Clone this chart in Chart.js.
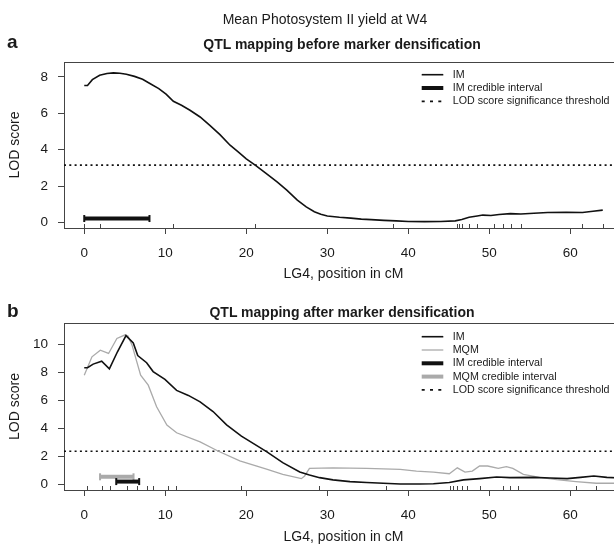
<!DOCTYPE html>
<html>
<head>
<meta charset="utf-8">
<title>Mean Photosystem II yield at W4</title>
<script src="https://cdn.jsdelivr.net/npm/chart.js@4.4.1/dist/chart.umd.min.js"></script>
<style>
  html, body { margin: 0; padding: 0; overflow: hidden; background: #fff; }
  body { width: 614px; height: 546px; position: relative; font-family: "Liberation Sans", Arial, sans-serif; color: #1a1a1a; }
  canvas { position: absolute; left: 0; }
  .txt { position: absolute; white-space: nowrap; }
  .main { left: 0; width: 650px; text-align: center; font-size: 14px; line-height: 14px; top: 12.2px; }
  .panel { left: 0; width: 684px; text-align: center; font-size: 14px; line-height: 14px; font-weight: bold; }
  .letter { left: 7px; font-size: 19px; line-height: 19px; font-weight: bold; }
</style>
</head>
<body>
<canvas id="chartA" width="640" height="286" style="top:0"></canvas>
<canvas id="chartB" width="640" height="260" style="top:286px"></canvas>

<div class="txt main">Mean Photosystem II yield at W4</div>
<div class="txt letter" style="top:32.2px">a</div>
<div class="txt panel" style="top:36.5px">QTL mapping before marker densification</div>
<div class="txt letter" style="top:300.6px">b</div>
<div class="txt panel" style="top:304.9px">QTL mapping after marker densification</div>

<script>
// tick labels
const xTickLabels = [0, 10, 20, 30, 40, 50, 60];
const yTicksA = [0, 2, 4, 6, 8];
const yTicksB = [0, 2, 4, 6, 8, 10];

// panel a : IM profile before densification (cM, LOD)
const posA = [0, 0.4, 1.0, 1.9, 2.8, 3.6, 4.4, 5.2, 6.2, 7.2, 8.1, 9.2, 10.1, 11.0, 12.0,
  13.05, 14.3, 15.5, 16.75, 18.0, 19.0, 20.0, 21.1, 22.4, 23.8, 25.0, 26.3, 27.4, 28.4, 29.2,
  30.0, 31.5, 32.9, 34.2, 35.4, 37.0, 38.5, 40.0, 42.0, 44.0, 45.8, 46.6, 47.5, 48.5, 49.2,
  50.2, 51.2, 52.6, 53.9, 55.5, 57.2, 59.5, 61.5, 62.8, 64.0];
const imA = [7.53, 7.53, 7.85, 8.09, 8.19, 8.22, 8.2, 8.15, 8.03, 7.87, 7.64, 7.36, 7.05, 6.66, 6.44,
  6.17, 5.8, 5.34, 4.83, 4.25, 3.88, 3.5, 3.15, 2.72, 2.23, 1.78, 1.23, 0.86, 0.59, 0.46,
  0.36, 0.29, 0.24, 0.19, 0.16, 0.12, 0.09, 0.06, 0.05, 0.06, 0.09, 0.17, 0.29, 0.36, 0.41,
  0.39, 0.44, 0.49, 0.47, 0.51, 0.55, 0.56, 0.55, 0.62, 0.68];
const thresholdA = 3.15;
const ciA_IM = [0, 8.05];
const ciA_IM_lod = 0.22;
const markersA = [0, 1.94, 11.0, 21.1, 38.1, 46.0, 46.3, 46.6, 47.5, 48.5, 50.6, 51.7, 52.7, 53.9, 61.5, 64.0];

// panel b : IM and MQM profiles after densification
const posB_IM = [0, 0.4, 1.1, 2.15, 3.1, 4.1, 5.15, 6.05, 6.6, 7.7, 8.5, 9.96, 11.4, 12.85, 14.3,
  15.9, 17.57, 19.4, 21.05, 22.5, 24.5, 26.6, 27.8, 29.05, 30.7, 32.8, 34.85, 36.9, 39.0, 41.4,
  43.1, 45.06, 46.8, 48.8, 50.9, 52.55, 55.4, 57.5, 59.6, 61.25, 62.9, 64.5, 66.2];
const imB = [8.33, 8.33, 8.59, 8.8, 8.25, 9.47, 10.62, 10.1, 9.2, 8.69, 8.06, 7.5, 6.72, 6.36, 5.9,
  5.21, 4.26, 3.46, 2.87, 2.35, 1.57, 0.9, 0.69, 0.5, 0.34, 0.22, 0.15, 0.1, 0.05, 0.05,
  0.07, 0.15, 0.34, 0.43, 0.55, 0.5, 0.52, 0.47, 0.43, 0.52, 0.62, 0.52, 0.48];
const posB_MQM = [0, 0.95, 1.98, 3.0, 4.03, 5.06, 5.4, 5.9, 6.96, 7.9, 8.93, 10.2, 11.4, 14.3, 16.5,
  19.2, 22.5, 24.5, 26.8, 27.2, 27.8, 30.7, 34.85, 39.0, 41.0, 43.1, 45.06, 46.05, 47.0, 47.9,
  48.8, 49.8, 51.1, 52.1, 52.9, 54.2, 56.2, 58.3, 60.7, 63.2, 66.2];
const mqmB = [7.8, 9.11, 9.58, 9.35, 10.42, 10.68, 10.6, 9.94, 7.8, 7.09, 5.55, 4.25, 3.7, 3.05, 2.4,
  1.69, 1.1, 0.74, 0.43, 0.62, 1.16, 1.2, 1.16, 1.09, 0.97, 0.9, 0.78, 1.2, 0.9, 0.97,
  1.33, 1.33, 1.16, 1.28, 1.16, 0.74, 0.52, 0.36, 0.22, 0.1, 0.1];
const thresholdB = 2.38;
const ciB_IM = [3.95, 6.78];
const ciB_IM_lod = 0.22;
const ciB_MQM = [1.95, 6.08];
const ciB_MQM_lod = 0.56;
const markersB = [0.37, 2.15, 3.17, 5.23, 6.46, 7.7, 8.44, 10.37, 11.3, 19.4, 29.0, 37.2,
  45.1, 45.5, 46.05, 46.6, 47.2, 48.85, 51.65, 52.5, 53.6, 60.7, 63.2];

const xMin = -2.5, xMax = 66.5;
const axisColor = "#444";
const textColor = "#1a1a1a";
const grey = "#aaaaaa";

Chart.defaults.font.family = '"Liberation Sans", Arial, sans-serif';
Chart.defaults.color = textColor;

function pts(xs, ys) {
  return xs.map((x, i) => ({ x: x, y: ys[i] }));
}

function profile(label, xs, ys, color, width) {
  return { label: label, data: pts(xs, ys), borderColor: color, borderWidth: width, pointRadius: 0, keyWidth: width };
}

function interval(label, range, lod, color) {
  return {
    label: label, data: pts(range, [lod, lod]), borderColor: color, borderWidth: 4,
    pointStyle: "line", pointRotation: 90, pointRadius: 3.5, pointBorderWidth: 2,
    pointBorderColor: color, keyWidth: 4
  };
}

function threshold(value) {
  return {
    label: "LOD score significance threshold", data: pts([xMin, xMax], [value, value]),
    borderColor: "#111", borderWidth: 1.7, borderDash: [2, 3.3], pointRadius: 0,
    keyWidth: 1.7, keyDash: [3, 5.3]
  };
}

// box around the plot region like R
function frame() {
  return {
    id: "frame",
    beforeDatasetsDraw(chart) {
      const { ctx, chartArea: a } = chart;
      ctx.save();
      ctx.strokeStyle = axisColor;
      ctx.lineWidth = 1;
      ctx.strokeRect(a.left + 0.5, a.top + 0.5, a.right - a.left, a.bottom - a.top);
      ctx.restore();
    }
  };
}

// marker positions as small ticks on the bottom
function rug(positions) {
  return {
    id: "rug",
    afterDatasetsDraw(chart) {
      const { ctx, chartArea: a, scales } = chart;
      ctx.save();
      ctx.strokeStyle = axisColor;
      ctx.lineWidth = 1;
      ctx.beginPath();
      positions.forEach(p => {
        const px = Math.round(scales.x.getPixelForValue(p)) + 0.5;
        ctx.moveTo(px, a.bottom);
        ctx.lineTo(px, a.bottom - 4);
      });
      ctx.stroke();
      ctx.restore();
    }
  };
}

function keyBox(top) {
  return {
    id: "keyBox",
    afterDraw(chart) {
      const ctx = chart.ctx;
      ctx.save();
      ctx.font = '10.7px "Liberation Sans", Arial, sans-serif';
      ctx.textBaseline = "middle";
      chart.data.datasets.forEach((ds, i) => {
        const y = top + i * 13.3;
        ctx.strokeStyle = ds.borderColor;
        ctx.lineWidth = ds.keyWidth;
        ctx.setLineDash(ds.keyDash || []);
        ctx.beginPath();
        ctx.moveTo(421.7, y);
        ctx.lineTo(443.3, y);
        ctx.stroke();
        ctx.fillStyle = textColor;
        ctx.fillText(ds.label, 452.7, y);
      });
      ctx.restore();
    }
  };
}

function makePanel(id, p) {
  return new Chart(document.getElementById(id), {
    type: "line",
    data: { datasets: p.datasets },
    options: {
      responsive: false,
      animation: false,
      events: [],
      layout: { padding: { top: p.top, right: 17, bottom: 0, left: 0 } },
      elements: { line: { tension: 0 } },
      scales: {
        x: {
          type: "linear", min: xMin, max: xMax,
          afterBuildTicks: s => { s.ticks = xTickLabels.map(v => ({ value: v })); },
          afterFit: s => { s.height = p.xHeight; },
          grid: { drawOnChartArea: false, drawTicks: true, tickLength: 6, color: axisColor },
          border: { display: false },
          ticks: { padding: 11, autoSkip: false, maxRotation: 0, color: textColor, font: { size: 13.5 } },
          title: { display: true, text: "LG4, position in cM", color: textColor, font: { size: 14 },
            padding: { top: 0, bottom: p.titlePad } }
        },
        y: {
          min: p.yMin, max: p.yMax,
          afterBuildTicks: s => { s.ticks = p.yTicks.map(v => ({ value: v })); },
          afterFit: s => { s.width = 64; },
          grid: { drawOnChartArea: false, drawTicks: true, tickLength: 6, color: axisColor },
          border: { display: false },
          ticks: { padding: 10, color: textColor, font: { size: 13.5 } },
          title: { display: true, text: "LOD score", color: textColor, font: { size: 14 },
            padding: { top: 7.1, bottom: 0 } }
        }
      },
      plugins: { legend: { display: false }, tooltip: { enabled: false } }
    },
    plugins: [frame(), rug(p.markers), keyBox(p.keyTop)]
  });
}

makePanel("chartA", {
  top: 62, xHeight: 58, titlePad: 3.6,
  yMin: -0.30, yMax: 8.82, yTicks: yTicksA,
  markers: markersA, keyTop: 74.7,
  datasets: [
    profile("IM", posA, imA, "#111", 1.6),
    interval("IM credible interval", ciA_IM, ciA_IM_lod, "#111"),
    threshold(thresholdA)
  ]
});

makePanel("chartB", {
  top: 37, xHeight: 56, titlePad: 0.6,
  yMin: -0.38, yMax: 11.52, yTicks: yTicksB,
  markers: markersB, keyTop: 50.7,
  datasets: [
    profile("IM", posB_IM, imB, "#111", 1.6),
    profile("MQM", posB_MQM, mqmB, grey, 1.3),
    interval("IM credible interval", ciB_IM, ciB_IM_lod, "#111"),
    interval("MQM credible interval", ciB_MQM, ciB_MQM_lod, grey),
    threshold(thresholdB)
  ]
});
</script>
</body>
</html>
